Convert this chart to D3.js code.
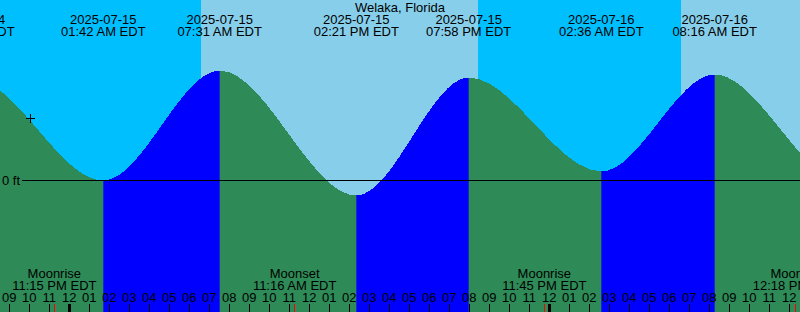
<!DOCTYPE html>
<html>
<head>
<meta charset="utf-8">
<script src="https://cdn.jsdelivr.net/npm/d3@7"></script>
<style>
  body { margin: 0; background: #fff; }
  svg { display: block; }
  text { font-family: "Liberation Sans", Arial, sans-serif; font-size: 13px; fill: #000; }
</style>
</head>
<body>
<div id="chart"></div>
<script>
var width = 800;
var height = 312;

var title = 'Welaka, Florida';

// tide extremes, local time (EDT); first and last are just off screen
var tideTimes = ['2025-07-14 12:55', '2025-07-14 19:08', '2025-07-15 01:42', '2025-07-15 07:31',
  '2025-07-15 14:21', '2025-07-15 19:58', '2025-07-16 02:36', '2025-07-16 08:16',
  '2025-07-16 14:47', '2025-07-16 20:55'];
var tideHeights = [-0.05, 0.51, 0.0, 0.55, -0.075, 0.515, 0.045, 0.53, -0.01, 0.5];
var tideTypes = ['low', 'high', 'low', 'high', 'low', 'high', 'low', 'high', 'low', 'high'];

// daylight intervals
var sunrises = ['2025-07-14 06:34', '2025-07-15 06:35', '2025-07-16 06:35'];
var sunsets = ['2025-07-14 20:27', '2025-07-15 20:27', '2025-07-16 20:26'];

var moonTimes = ['2025-07-14 23:15', '2025-07-15 11:16', '2025-07-15 23:45', '2025-07-16 12:18'];
var moonEvents = ['Moonrise', 'Moonset', 'Moonrise', 'Moonset'];

var nowTime = '2025-07-14 22:02';
var nowHeight = 0.31;

var parse = d3.utcParse('%Y-%m-%d %H:%M');
var fmtDate = d3.utcFormat('%Y-%m-%d');
var fmtTime = d3.utcFormat('%I:%M %p EDT');
var fmtHour = d3.utcFormat('%I');

var tides = tideTimes.map(function(t, i) {
  return { t: parse(t), h: tideHeights[i], type: tideTypes[i] };
});

var x = d3.scaleUtc()
  .domain([parse('2025-07-14 20:32'), parse('2025-07-16 12:32')])
  .range([0, width]);
var y = d3.scaleLinear()
  .domain([-0.6575, 0.9025])
  .range([height, 0]);

var svg = d3.select('#chart').append('svg')
  .attr('width', width)
  .attr('height', height);

var skyLayer = svg.append('g');
var waterLayer = svg.append('g');
var textLayer = svg.append('g');

// sky: night everywhere, day on top
skyLayer.append('rect')
  .attr('x', 0).attr('y', 0)
  .attr('width', width).attr('height', height)
  .attr('fill', '#00bfff');
skyLayer.selectAll('rect.day').data(sunrises)
  .enter().append('rect')
  .attr('class', 'day')
  .attr('x', function(d) { return x(parse(d)); })
  .attr('y', 0)
  .attr('width', function(d, i) { return x(parse(sunsets[i])) - x(parse(d)); })
  .attr('height', height)
  .attr('fill', '#87ceeb')
  .attr('shape-rendering', 'crispEdges');

// flood intervals: low -> next high
var floods = [];
for (var i = 0; i < tides.length - 1; i++) {
  if (tides[i].type === 'low') floods.push([tides[i].t, tides[i + 1].t]);
}

svg.append('defs').append('clipPath').attr('id', 'flood')
  .selectAll('rect').data(floods)
  .enter().append('rect')
  .attr('x', function(d) { return x(d[0]); })
  .attr('y', 0)
  .attr('width', function(d) { return x(d[1]) - x(d[0]); })
  .attr('height', height);

var area = d3.area()
  .x(function(d) { return x(d.t); })
  .y0(height)
  .y1(function(d) { return y(d.h); })
  .curve(d3.curveMonotoneX);

waterLayer.append('path')
  .datum(tides)
  .attr('d', area)
  .attr('fill', '#2e8b57')
  .attr('shape-rendering', 'crispEdges');
waterLayer.append('path')
  .datum(tides)
  .attr('d', area)
  .attr('fill', '#0000ff')
  .attr('clip-path', 'url(#flood)')
  .attr('shape-rendering', 'crispEdges');

// zero line
var y0 = Math.floor(y(0)) + 0.5;
textLayer.append('line')
  .attr('x1', 22).attr('x2', width)
  .attr('y1', y0).attr('y2', y0)
  .attr('stroke', '#000');
textLayer.append('text')
  .attr('x', 2).attr('y', y0 + 4.5)
  .text('0 ft');

// "now" mark
var nx = Math.floor(x(parse(nowTime))) + 0.5;
var ny = Math.floor(y(nowHeight)) + 0.5;
textLayer.append('path')
  .attr('d', 'M' + (nx - 4.5) + ',' + ny + 'H' + (nx + 4.5) + 'M' + nx + ',' + (ny - 4.5) + 'V' + (ny + 4.5))
  .attr('stroke', '#000');

// title and tide labels
textLayer.append('text')
  .attr('x', width / 2).attr('y', 11.5)
  .attr('text-anchor', 'middle')
  .text(title);

var tl = textLayer.selectAll('g.tide').data(tides)
  .enter().append('g')
  .attr('class', 'tide');
tl.append('text')
  .attr('x', function(d) { return x(d.t); })
  .attr('y', 24)
  .attr('text-anchor', 'middle')
  .text(function(d) { return fmtDate(d.t); });
tl.append('text')
  .attr('x', function(d) { return x(d.t); })
  .attr('y', 36)
  .attr('text-anchor', 'middle')
  .text(function(d) { return fmtTime(d.t); });

// moon events
var ml = textLayer.selectAll('g.moon').data(moonTimes)
  .enter().append('g')
  .attr('class', 'moon');
ml.append('text')
  .attr('x', function(d) { return x(parse(d)); })
  .attr('y', 278)
  .attr('text-anchor', 'middle')
  .text(function(d, i) { return moonEvents[i]; });
ml.append('text')
  .attr('x', function(d) { return x(parse(d)); })
  .attr('y', 290)
  .attr('text-anchor', 'middle')
  .text(function(d) { return fmtTime(parse(d)); });
ml.append('line')
  .attr('x1', function(d) { return Math.floor(x(parse(d))) + 0.5; })
  .attr('x2', function(d) { return Math.floor(x(parse(d))) + 0.5; })
  .attr('y1', 304).attr('y2', height)
  .attr('stroke', '#ff0000');

// hour ticks
var hours = x.ticks(d3.utcHour.every(1));
textLayer.selectAll('text.hour').data(hours)
  .enter().append('text')
  .attr('class', 'hour')
  .attr('x', function(d) { return x(d); })
  .attr('y', 302)
  .attr('text-anchor', 'middle')
  .text(function(d) { return fmtHour(d); });
textLayer.selectAll('line.hour').data(hours)
  .enter().append('line')
  .attr('class', 'hour')
  .attr('x1', function(d) { return Math.floor(x(d)) + 0.5; })
  .attr('x2', function(d) { return Math.floor(x(d)) + 0.5; })
  .attr('y1', 304).attr('y2', height)
  .attr('stroke', '#000')
  .attr('stroke-width', function(d) { return d.getUTCHours() === 0 ? 3 : 1; });
</script>
</body>
</html>
